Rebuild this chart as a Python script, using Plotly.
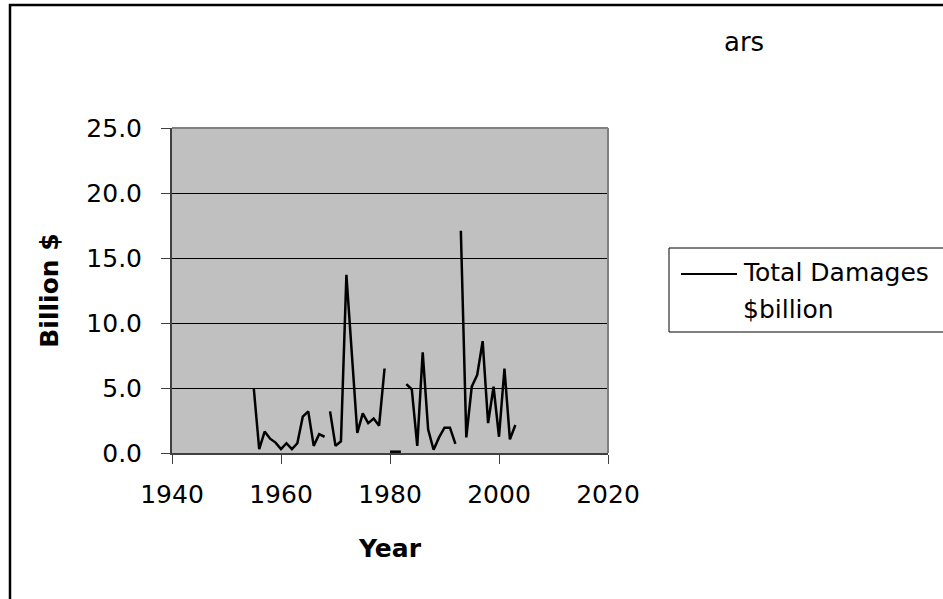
import plotly.graph_objects as go

# ---- data ----
years = [1955, 1956, 1957, 1958, 1959, 1960, 1961, 1962, 1963, 1964, 1965, 1966, 1967, 1968,
         None,
         1969, 1970, 1971, 1972, 1974, 1975, 1976, 1977, 1978, 1979,
         None,
         1980, 1981, 1982,
         None,
         1983, 1984, 1985, 1986, 1987, 1988, 1989, 1990, 1991, 1992,
         None,
         1993, 1994, 1995, 1996, 1997, 1998, 1999, 2000, 2001, 2002, 2003]
damages = [5.0, 0.3, 1.65, 1.1, 0.8, 0.3, 0.75, 0.3, 0.75, 2.8, 3.2, 0.55, 1.45, 1.25,
           None,
           3.2, 0.55, 0.9, 13.7, 1.55, 3.05, 2.3, 2.65, 2.1, 6.5,
           None,
           0.1, 0.1, 0.1,
           None,
           5.3, 4.9, 0.55, 7.75, 1.8, 0.25, 1.2, 1.95, 1.95, 0.7,
           None,
           17.1, 1.2, 5.1, 6.0, 8.6, 2.3, 5.1, 1.25, 6.5, 1.05, 2.15]

legend_lines = ["Total Damages", "$billion"]
x_title = "Year"
y_title = "Billion $"
title_fragment = "ars"
x_ticks = [1940, 1960, 1980, 2000, 2020]
y_ticks = [0, 5, 10, 15, 20, 25]

# ---- layout geometry (pixels) ----
W, H = 943, 599
L, R, T, B = 172, 608, 128, 453


def px(x):
    return (x - L) / (R - L)


def py(y):
    return (B - y) / (B - T)


FONT = "DejaVu Sans"
FS = 25

fig = go.Figure()
fig.add_trace(go.Scatter(
    x=years, y=damages, mode="lines", name=" ".join(legend_lines),
    line=dict(color="black", width=2.5), connectgaps=False, showlegend=False,
))

fig.update_layout(
    width=W, height=H,
    margin=dict(l=L, r=W - R, t=T, b=H - B, pad=0),
    paper_bgcolor="white",
    plot_bgcolor="#C0C0C0",
    font=dict(family=FONT, size=FS, color="black"),
    xaxis=dict(
        range=[1940, 2020], tickvals=x_ticks, ticktext=[str(v) for v in x_ticks],
        showgrid=False, zeroline=False,
        showline=True, linecolor="#404040", linewidth=2,
        ticks="outside", ticklen=9, tickwidth=1, tickcolor="#404040",
        ticklabelstandoff=9,
        tickfont=dict(family=FONT, size=FS, color="black"),
        title=dict(text="<b>" + x_title + "</b>", standoff=31,
                   font=dict(family=FONT, size=FS, color="black")),
    ),
    yaxis=dict(
        range=[0, 25], tickvals=y_ticks, ticktext=["%.1f" % v for v in y_ticks],
        showgrid=True, gridcolor="black", gridwidth=1, zeroline=False,
        showline=True, linecolor="#404040", linewidth=2,
        ticks="outside", ticklen=9, tickwidth=1, tickcolor="#404040",
        ticklabelstandoff=14,
        tickfont=dict(family=FONT, size=FS, color="black"),
        title=dict(text="<b>" + y_title + "</b>", standoff=21,
                   font=dict(family=FONT, size=FS, color="black")),
    ),
    showlegend=False,
)

# plot-area top/right border (grey)
fig.add_shape(type="line", xref="paper", yref="paper", x0=0, x1=1, y0=1, y1=1,
              line=dict(color="#808080", width=2), layer="above")
fig.add_shape(type="line", xref="paper", yref="paper", x0=1, x1=1, y0=0, y1=1,
              line=dict(color="#808080", width=2), layer="above")

# outer chart-area border
fig.add_shape(type="rect", xref="paper", yref="paper",
              x0=px(10), x1=px(1000), y0=py(5), y1=py(700),
              line=dict(color="black", width=2.5), fillcolor="rgba(0,0,0,0)", layer="below")

# legend box
fig.add_shape(type="rect", xref="paper", yref="paper",
              x0=px(669), x1=px(1000), y0=py(248), y1=py(332),
              line=dict(color="black", width=1), fillcolor="white", layer="below")
fig.add_shape(type="line", xref="paper", yref="paper",
              x0=px(681), x1=px(737), y0=py(274), y1=py(274),
              line=dict(color="black", width=2))
for text, yc in zip(legend_lines, [272, 309]):
    fig.add_annotation(xref="paper", yref="paper", x=px(741), y=py(yc),
                       text=text, showarrow=False, xanchor="left", yanchor="middle",
                       align="left", font=dict(family=FONT, size=FS, color="black"))

# partially visible chart title
fig.add_annotation(xref="paper", yref="paper", x=px(766), y=py(42),
                   text=title_fragment, showarrow=False, xanchor="right", yanchor="middle",
                   font=dict(family=FONT, size=26, color="black"))

fig.write_html("out.html")
